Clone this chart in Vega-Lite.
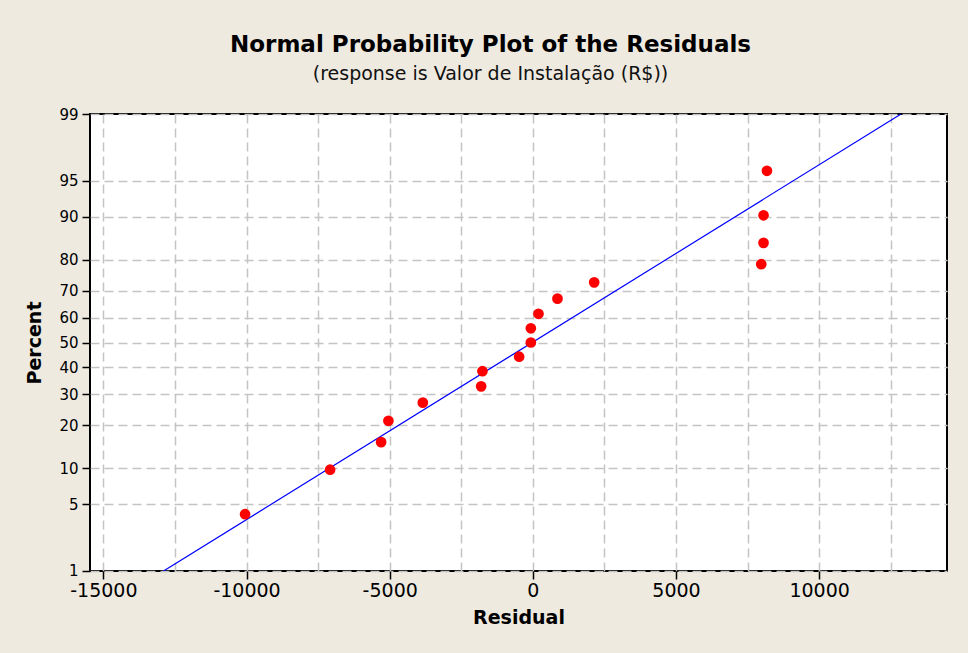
{
  "$schema": "https://vega.github.io/schema/vega-lite/v6.json",
  "width": 857,
  "height": 457,
  "autosize": {"type": "none"},
  "padding": {"left": 90, "top": 114, "right": 21, "bottom": 82},
  "background": "#EEEAE0",
  "title": {
    "text": "Normal Probability Plot of the Residuals",
    "subtitle": "(response is Valor de Instalação (R$))",
    "anchor": "middle",
    "dx": -28,
    "offset": 23,
    "font": "DejaVu Sans",
    "fontSize": 23,
    "fontWeight": "bold",
    "color": "#000000",
    "subtitleFont": "DejaVu Sans",
    "subtitleFontSize": 19,
    "subtitleColor": "#111111",
    "subtitlePadding": 8
  },
  "config": {
    "view": {"stroke": "#000000", "strokeWidth": 2, "fill": "#FFFFFF"},
    "axis": {
      "domain": false,
      "grid": true,
      "gridColor": "#C4C4C4",
      "gridWidth": 1.5,
      "gridDash": [9, 5],
      "tickColor": "#000000",
      "tickWidth": 1.5,
      "tickSize": 8,
      "labelFont": "DejaVu Sans",
      "labelColor": "#000000",
      "titleFont": "DejaVu Sans",
      "titleFontWeight": "bold",
      "titleFontSize": 19,
      "titleColor": "#000000"
    }
  },
  "layer": [
    {
      "data": {
        "values": [
          {"residual": -12900, "percent": 1},
          {"residual": 12860, "percent": 99}
        ]
      },
      "transform": [{"calculate": "quantileNormal(datum.percent / 100)", "as": "z"}],
      "mark": {"type": "line", "color": "#0000FF", "strokeWidth": 1.2, "clip": true},
      "encoding": {
        "x": {"field": "residual", "type": "quantitative"},
        "y": {"field": "z", "type": "quantitative"}
      }
    },
    {
      "data": {
        "values": [
          {"residual": -10052, "percent": 4.02},
          {"residual": -7082, "percent": 9.77},
          {"residual": -5300, "percent": 15.52},
          {"residual": -5045, "percent": 21.26},
          {"residual": -3843, "percent": 27.01},
          {"residual": -1806, "percent": 32.76},
          {"residual": -1761, "percent": 38.51},
          {"residual": -479, "percent": 44.25},
          {"residual": -70, "percent": 50.0},
          {"residual": -70, "percent": 55.75},
          {"residual": 196, "percent": 61.49},
          {"residual": 860, "percent": 67.24},
          {"residual": 2142, "percent": 72.99},
          {"residual": 7977, "percent": 78.74},
          {"residual": 8057, "percent": 84.48},
          {"residual": 8057, "percent": 90.23},
          {"residual": 8176, "percent": 95.98}
        ]
      },
      "transform": [{"calculate": "quantileNormal(datum.percent / 100)", "as": "z"}],
      "mark": {"type": "circle", "color": "#FF0000", "opacity": 1, "size": 115},
      "encoding": {
        "x": {
          "field": "residual",
          "type": "quantitative",
          "scale": {"domain": [-15468, 14465], "nice": false, "zero": false},
          "axis": {
            "title": "Residual",
            "titlePadding": 8,
            "tickCount": 30,
            "values": [-15000, -12500, -10000, -7500, -5000, -2500, 0, 2500, 5000, 7500, 10000, 12500],
            "labelExpr": "datum.value % 5000 === 0 ? toString(datum.value) : ''",
            "labelOverlap": false,
            "labelFontSize": 19,
            "labelPadding": 2,
            "tickOpacity": {"condition": {"test": "datum.value % 5000 === 0", "value": 1}, "value": 0}
          }
        },
        "y": {
          "field": "z",
          "type": "quantitative",
          "scale": {"domain": [-2.3263479, 2.3263479], "nice": false, "zero": false},
          "axis": {
            "title": "Percent",
            "titlePadding": 14,
            "tickCount": 30,
            "values": [-2.32634, -1.644854, -1.281552, -0.841621, -0.524401, -0.253347, 0, 0.253347, 0.524401, 0.841621, 1.281552, 1.644854, 2.32634],
            "labelExpr": "toString(round(cumulativeNormal(datum.value) * 100))",
            "labelOverlap": false,
            "labelFontSize": 15,
            "labelPadding": 4
          }
        }
      }
    }
  ]
}
